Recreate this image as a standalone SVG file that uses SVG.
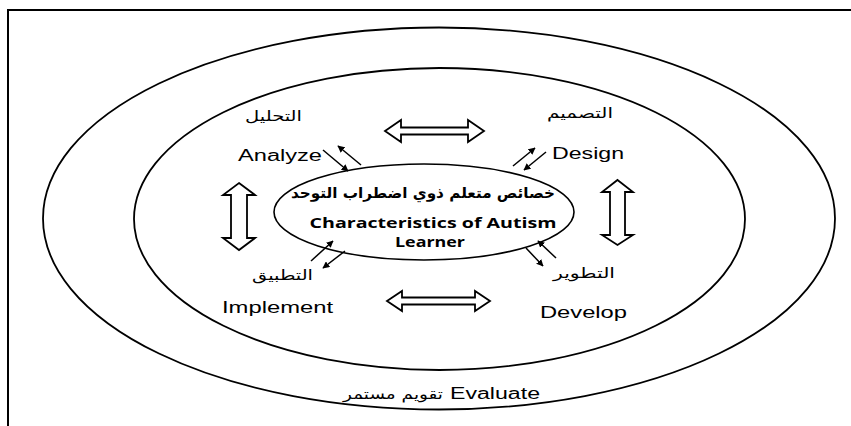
<svg xmlns="http://www.w3.org/2000/svg" width="851" height="426" viewBox="0 0 851 426">
  <defs>
    <style>
      .ring { fill: none; stroke: #000; stroke-width: 1.8; }
      .core { fill: #fff; stroke: #000; stroke-width: 1.6; }
      .block { fill: #fff; stroke: #000; stroke-width: 1.8; stroke-linejoin: miter; }
      .link { stroke: #000; stroke-width: 1.5; fill: none; marker-end: url(#head); }
      .en { font-family: "Liberation Sans", Arial, sans-serif; font-size: 16px; fill: #000; }
      .ar { font-family: "DejaVu Sans", "Liberation Sans", sans-serif; font-size: 14px; fill: #000; }
      .core-ar { font-family: "DejaVu Sans", sans-serif; font-size: 15px; font-weight: bold; fill: #000; }
      .core-en { font-family: "Open Sans", "Liberation Sans", sans-serif; font-size: 15px; font-weight: bold; fill: #000; }
    </style>
    <marker id="head" viewBox="0 0 10 10" refX="9" refY="5" markerWidth="7" markerHeight="7" orient="auto" markerUnits="userSpaceOnUse">
      <path d="M0,0 L10,5 L0,10 Z" fill="#000"/>
    </marker>
  </defs>

  <rect width="851" height="426" fill="#fff"/>

  <!-- page frame -->
  <rect x="8" y="10" width="900" height="500" fill="none" stroke="#000" stroke-width="2"/>

  <!-- outer ring: continuous evaluation -->
  <g id="evaluate">
    <ellipse class="ring" cx="439" cy="218.5" rx="396" ry="191"/>
    <text class="ar" x="443" y="399" text-anchor="end" textLength="100" lengthAdjust="spacingAndGlyphs">تقويم مستمر</text>
    <text class="en" x="450" y="399" textLength="90" lengthAdjust="spacingAndGlyphs">Evaluate</text>
  </g>

  <!-- inner ring -->
  <g id="cycle">
    <ellipse class="ring" cx="439.5" cy="219" rx="305.5" ry="151"/>
  </g>

  <!-- centre: learner characteristics -->
  <g id="learner">
    <ellipse class="core" cx="424" cy="212" rx="150" ry="48"/>
    <text class="core-ar" x="423" y="198" text-anchor="middle" textLength="264" lengthAdjust="spacingAndGlyphs">خصائص متعلم ذوي اضطراب التوحد</text>
    <text class="core-en" x="433" y="228" text-anchor="middle" textLength="247" lengthAdjust="spacingAndGlyphs">Characteristics of Autism</text>
    <text class="core-en" x="430" y="247" text-anchor="middle" textLength="70" lengthAdjust="spacingAndGlyphs">Learner</text>
  </g>

  <g id="analyze">
    <text class="ar" x="273.5" y="121" text-anchor="middle" textLength="57" lengthAdjust="spacingAndGlyphs">التحليل</text>
    <text class="en" x="238" y="161" textLength="84" lengthAdjust="spacingAndGlyphs">Analyze</text>
  </g>

  <g id="design">
    <text class="ar" x="580" y="118" text-anchor="middle" textLength="66" lengthAdjust="spacingAndGlyphs">التصميم</text>
    <text class="en" x="552" y="159" textLength="72" lengthAdjust="spacingAndGlyphs">Design</text>
  </g>

  <g id="implement">
    <text class="ar" x="282.5" y="280" text-anchor="middle" textLength="61" lengthAdjust="spacingAndGlyphs">التطبيق</text>
    <text class="en" x="222" y="313" textLength="111" lengthAdjust="spacingAndGlyphs">Implement</text>
  </g>

  <g id="develop">
    <text class="ar" x="584" y="278" text-anchor="middle" textLength="62" lengthAdjust="spacingAndGlyphs">التطوير</text>
    <text class="en" x="540" y="318" textLength="87" lengthAdjust="spacingAndGlyphs">Develop</text>
  </g>

  <!-- connectors -->
  <g id="connectors">
    <!-- two-way links between the phases -->
    <path class="block" d="M385,131 L401,120 L401,127.5 L468,127.5 L468,120 L484,131 L468,142 L468,134.5 L401,134.5 L401,142 Z"/>
    <path class="block" d="M387,301 L402,291 L402,297.5 L475,297.5 L475,291 L490,301 L475,311 L475,304.5 L402,304.5 L402,311 Z"/>
    <path class="block" d="M239,183 L255,195 L247,195 L247,238 L255,238 L239,250 L223,238 L231,238 L231,195 L223,195 Z"/>
    <path class="block" d="M617.5,180 L633,192 L625,192 L625,235 L633,235 L617.5,245 L602,235 L610,235 L610,192 L602,192 Z"/>

    <!-- links between each phase and the learner -->
    <line class="link" x1="323" y1="150" x2="348" y2="171"/>
    <line class="link" x1="361" y1="165" x2="338" y2="146"/>
    <line class="link" x1="513" y1="166" x2="535" y2="148"/>
    <line class="link" x1="546" y1="152" x2="524" y2="170"/>
    <line class="link" x1="311" y1="261" x2="333" y2="241"/>
    <line class="link" x1="345" y1="251" x2="323" y2="268"/>
    <line class="link" x1="526" y1="248" x2="543" y2="266"/>
    <line class="link" x1="556" y1="258" x2="538" y2="241"/>
  </g>
</svg>
